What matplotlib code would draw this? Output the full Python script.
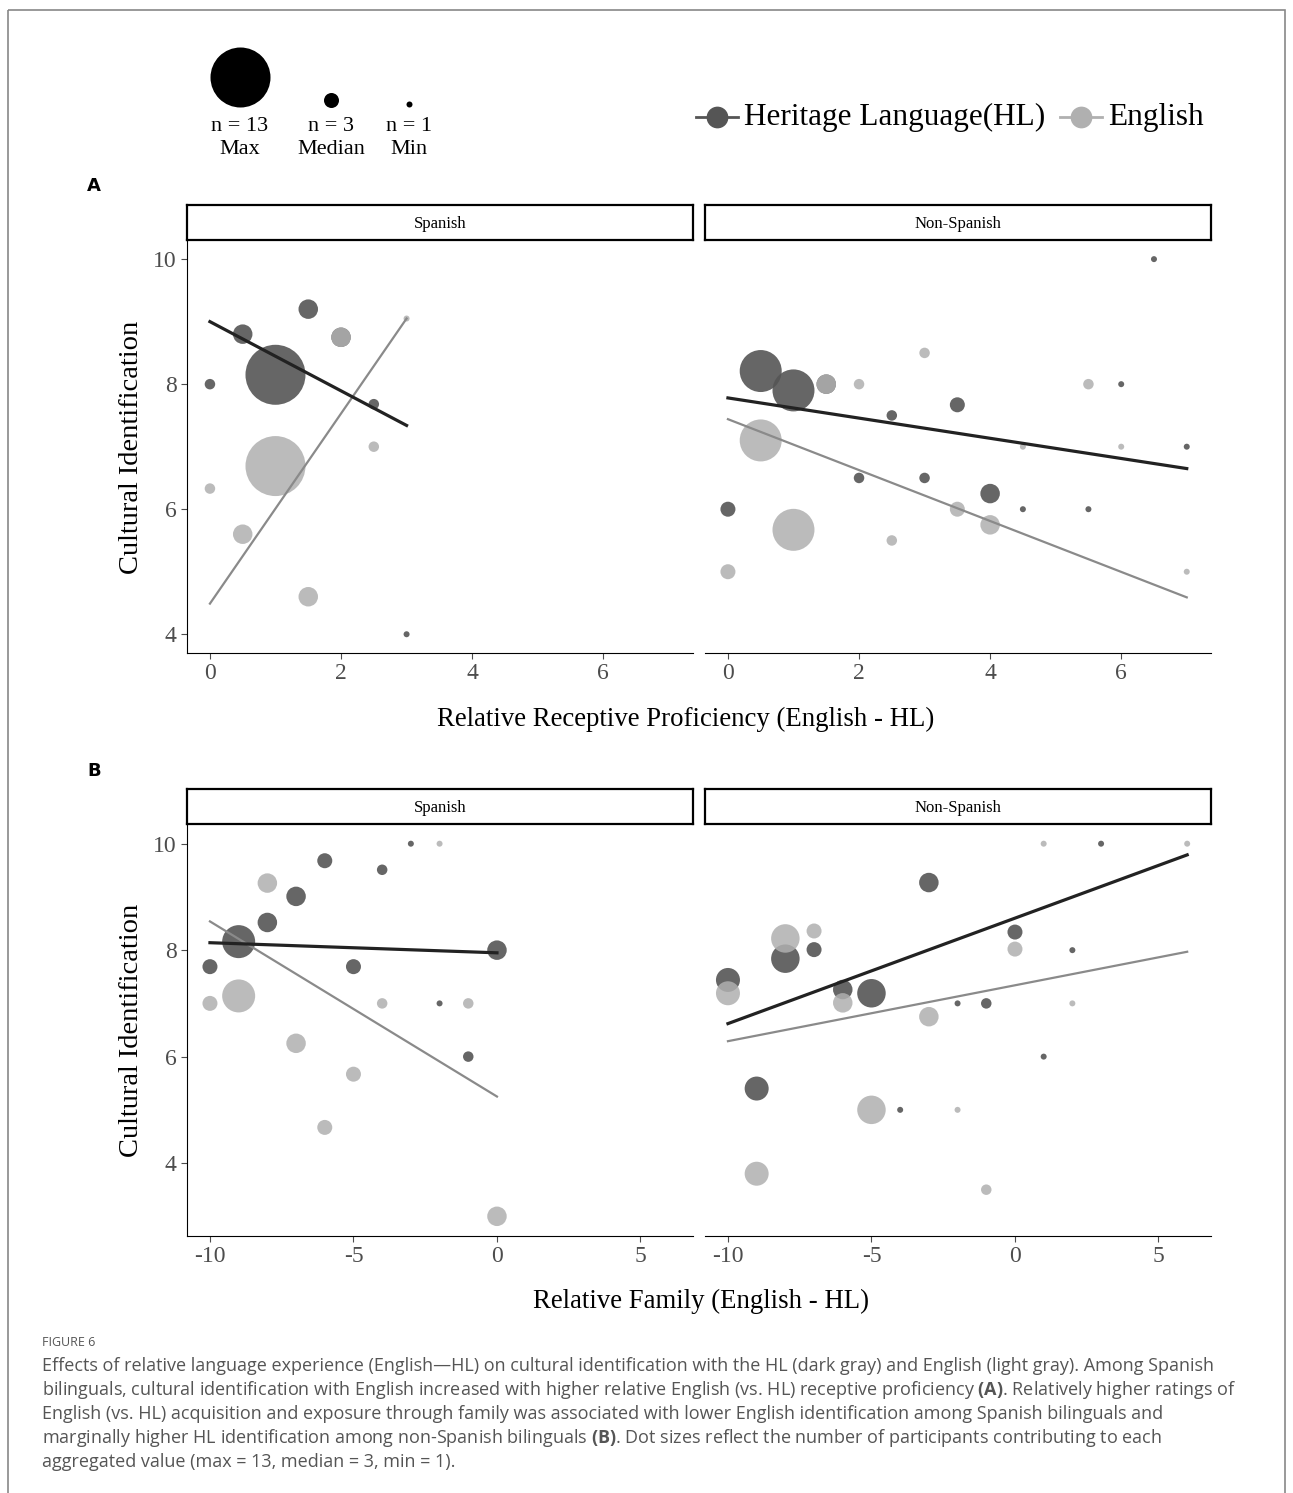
import numpy as np
import matplotlib
matplotlib.use('Agg')
import matplotlib.pyplot as plt
from matplotlib.patches import Rectangle

plt.rcParams['axes.unicode_minus'] = False
plt.rcParams['mathtext.fontset'] = 'custom'
plt.rcParams['mathtext.bf'] = 'Open Sans:bold'
plt.rcParams['mathtext.rm'] = 'Open Sans'

# ---- data ----
# panel A: relative receptive proficiency
a_sp_hl_x = [0, 0.5, 1.0, 1.5, 2.0, 2.5, 3.0]
a_sp_hl_y = [8.0, 8.8, 8.15, 9.2, 8.75, 7.68, 4.0]
a_sp_hl_n = [2, 4, 13, 4, 4, 2, 1]
a_sp_en_x = [0, 0.5, 1.0, 1.5, 2.0, 2.5, 3.0]
a_sp_en_y = [6.33, 5.6, 6.69, 4.6, 8.75, 7.0, 9.05]
a_sp_en_n = [2, 4, 13, 4, 4, 2, 1]

a_ns_hl_x = [0, 0.5, 1.0, 1.5, 2.0, 2.5, 3.0, 3.5, 4.0, 4.5, 5.5, 6.0, 6.5, 7.0]
a_ns_hl_y = [6.0, 8.21, 7.9, 8.0, 6.5, 7.5, 6.5, 7.67, 6.25, 6.0, 6.0, 8.0, 10.0, 7.0]
a_ns_hl_n = [3, 9, 9, 4, 2, 2, 2, 3, 4, 1, 1, 1, 1, 1]
a_ns_en_x = [0, 0.5, 1.0, 1.5, 2.0, 2.5, 3.0, 3.5, 4.0, 4.5, 5.5, 6.0, 7.0]
a_ns_en_y = [5.0, 7.1, 5.67, 8.0, 8.0, 5.5, 8.5, 6.0, 5.75, 7.0, 8.0, 7.0, 5.0]
a_ns_en_n = [3, 9, 9, 4, 2, 2, 2, 3, 4, 1, 2, 1, 1]

# panel B: relative family
b_sp_hl_x = [-10, -9, -8, -7, -6, -5, -4, -3, -2, -1, 0]
b_sp_hl_y = [7.69, 8.16, 8.52, 9.01, 9.68, 7.69, 9.51, 10.0, 7.0, 6.0, 8.0]
b_sp_hl_n = [3, 7, 4, 4, 3, 3, 2, 1, 1, 2, 4]
b_sp_en_x = [-10, -9, -8, -7, -6, -5, -4, -2, -1, 0]
b_sp_en_y = [7.0, 7.14, 9.26, 6.25, 4.67, 5.67, 7.0, 10.0, 7.0, 3.0]
b_sp_en_n = [3, 7, 4, 4, 3, 3, 2, 1, 2, 4]

b_ns_hl_x = [-10, -9, -8, -7, -6, -5, -4, -3, -2, -1, 0, 1, 2, 3]
b_ns_hl_y = [7.44, 5.4, 7.84, 8.01, 7.26, 7.19, 5.0, 9.27, 7.0, 7.0, 8.34, 6.0, 8.0, 10.0]
b_ns_hl_n = [5, 5, 6, 3, 4, 6, 1, 4, 1, 2, 3, 1, 1, 1]
b_ns_en_x = [-10, -9, -8, -7, -6, -5, -3, -2, -1, 0, 1, 2, 6]
b_ns_en_y = [7.19, 3.8, 8.22, 8.36, 7.01, 5.0, 6.75, 5.0, 3.5, 8.02, 10.0, 7.0, 10.0]
b_ns_en_n = [5, 5, 6, 3, 4, 6, 4, 1, 2, 3, 1, 1, 1]

# fitted lines: (x start, x end, y start, y end)
a_sp_hl_fit = [0, 3, 9.0, 7.34]
a_sp_en_fit = [0, 3, 4.49, 9.05]
a_ns_hl_fit = [0, 7, 7.78, 6.65]
a_ns_en_fit = [0, 7, 7.44, 4.59]
b_sp_hl_fit = [-10, 0, 8.14, 7.95]
b_sp_en_fit = [-10, 0, 8.54, 5.25]
b_ns_hl_fit = [-10, 6, 6.62, 9.79]
b_ns_en_fit = [-10, 6, 6.29, 7.97]

legend_n = [13, 3, 1]
legend_lab = ['n = 13\nMax', 'n = 3\nMedian', 'n = 1\nMin']

caption_lines = [
    'Effects of relative language experience (English\u2014HL) on cultural identification with the HL (dark gray) and English (light gray). Among Spanish',
    'bilinguals, cultural identification with English increased with higher relative English (vs. HL) receptive proficiency $\\mathbf{(A)}$. Relatively higher ratings of',
    'English (vs. HL) acquisition and exposure through family was associated with lower English identification among Spanish bilinguals and',
    'marginally higher HL identification among non-Spanish bilinguals $\\mathbf{(B)}$. Dot sizes reflect the number of participants contributing to each',
    'aggregated value (max = 13, median = 3, min = 1).',
]

HL_COL = '#555555'
EN_COL = '#b0b0b0'
SERIF = 'Liberation Serif'
W, H = 1293, 1493

fig = plt.figure(figsize=(W / 100, H / 100), dpi=100)


def px_axes(x0, y0, x1, y1):
    return fig.add_axes([x0 / W, 1 - y1 / H, (x1 - x0) / W, (y1 - y0) / H])


def msize(n):
    r = 2.25 * np.asarray(n) + 0.75   # radius in px
    return (2 * r * 0.72) ** 2


def panel(ax, hx, hy, hn, ex, ey, en, hfit, efit):
    ax.scatter(hx, hy, s=msize(hn), color=HL_COL, alpha=0.9, lw=0, zorder=2)
    ax.scatter(ex, ey, s=msize(en), color=EN_COL, alpha=0.85, lw=0, zorder=3)
    ax.plot(efit[:2], efit[2:], color='#8a8a8a', lw=1.6, zorder=4)
    ax.plot(hfit[:2], hfit[2:], color='#222222', lw=2.3, zorder=5)
    for s in ['top', 'right']:
        ax.spines[s].set_visible(False)
    ax.tick_params(labelsize=17, colors='#4d4d4d', length=4)


def strip(x0, y0, x1, y1, text):
    s = px_axes(x0, y0, x1, y1)
    s.set_xticks([])
    s.set_yticks([])
    for sp in s.spines.values():
        sp.set_linewidth(1.6)
    s.text(0.5, 0.45, text, ha='center', va='center', fontsize=12,
           family=SERIF, transform=s.transAxes)


def fix_fonts(ax):
    for lab in ax.get_xticklabels() + ax.get_yticklabels():
        lab.set_family(SERIF)


# ---- panel A ----
axes_a = []
for (x0, x1), name, d in [((187, 693), 'Spanish',
                            (a_sp_hl_x, a_sp_hl_y, a_sp_hl_n, a_sp_en_x, a_sp_en_y, a_sp_en_n,
                             a_sp_hl_fit, a_sp_en_fit)),
                           ((705, 1211), 'Non-Spanish',
                            (a_ns_hl_x, a_ns_hl_y, a_ns_hl_n, a_ns_en_x, a_ns_en_y, a_ns_en_n,
                             a_ns_hl_fit, a_ns_en_fit))]:
    ax = px_axes(x0, 241, x1, 653)
    panel(ax, *d)
    ax.set_xlim(-0.35, 7.37)
    ax.set_ylim(3.7, 10.29)
    ax.set_xticks([0, 2, 4, 6])
    ax.set_yticks([4, 6, 8, 10])
    fix_fonts(ax)
    strip(x0, 205, x1, 240, name)
    axes_a.append(ax)
axes_a[1].spines['left'].set_visible(False)
axes_a[1].tick_params(left=False, labelleft=False)

# ---- panel B ----
axes_b = []
for (x0, x1), name, d in [((187, 693), 'Spanish',
                            (b_sp_hl_x, b_sp_hl_y, b_sp_hl_n, b_sp_en_x, b_sp_en_y, b_sp_en_n,
                             b_sp_hl_fit, b_sp_en_fit)),
                           ((705, 1211), 'Non-Spanish',
                            (b_ns_hl_x, b_ns_hl_y, b_ns_hl_n, b_ns_en_x, b_ns_en_y, b_ns_en_n,
                             b_ns_hl_fit, b_ns_en_fit))]:
    ax = px_axes(x0, 824, x1, 1236)
    panel(ax, *d)
    ax.set_xlim(-10.8, 6.83)
    ax.set_ylim(2.63, 10.37)
    ax.set_xticks([-10, -5, 0, 5])
    ax.set_yticks([4, 6, 8, 10])
    fix_fonts(ax)
    strip(x0, 789, x1, 824, name)
    axes_b.append(ax)
axes_b[1].spines['left'].set_visible(False)
axes_b[1].tick_params(left=False, labelleft=False)

# ---- overlay for titles, legends, caption ----
ov = fig.add_axes([0, 0, 1, 1], zorder=-1)
ov.set_xlim(0, W)
ov.set_ylim(H, 0)
ov.axis('off')
ov.add_patch(Rectangle((8, 10), 1277, 1500, fill=False, ec='#888888', lw=1.2))

ov.text(131, 447, 'Cultural Identification', rotation=90, ha='center', va='center',
        fontsize=20.5, family=SERIF)
ov.text(131, 1030, 'Cultural Identification', rotation=90, ha='center', va='center',
        fontsize=20.5, family=SERIF)
ov.text(686, 719, 'Relative Receptive Proficiency (English - HL)', ha='center',
        va='center', fontsize=19.3, family=SERIF)
ov.text(701, 1301, 'Relative Family (English - HL)', ha='center', va='center',
        fontsize=19.3, family=SERIF)
ov.text(94, 186, 'A', ha='center', va='center', fontsize=13, weight='bold')
ov.text(94, 771, 'B', ha='center', va='center', fontsize=13, weight='bold')

# size legend
for xc, n, lab in zip([240, 331, 409], legend_n, legend_lab):
    ov.scatter([xc], [107 - (2.25 * n + 0.75)], s=msize([n]), color='black', lw=0)
    ov.text(xc, 138, lab, ha='center', va='center', fontsize=16, family=SERIF,
            linespacing=1.3)

# colour legend
for x0, col, lab in [(696, HL_COL, 'Heritage Language(HL)'), (1060, EN_COL, 'English')]:
    ov.plot([x0, x0 + 42], [117, 117], color=col, lw=2)
    ov.scatter([x0 + 21], [117], s=msize([4.5]), color=col, lw=0)
    ov.text(x0 + 48, 117, lab, ha='left', va='center', fontsize=22.5, family=SERIF)

# caption
ov.text(42, 1343, 'FIGURE 6', ha='left', va='center', fontsize=9, color='#555555',
        family='Open Sans')
for i, line in enumerate(caption_lines):
    ov.text(42, 1366 + 24 * i, line, ha='left', va='center', fontsize=13,
            color='#555555', family='Open Sans')

fig.savefig('out.png', dpi=100)
